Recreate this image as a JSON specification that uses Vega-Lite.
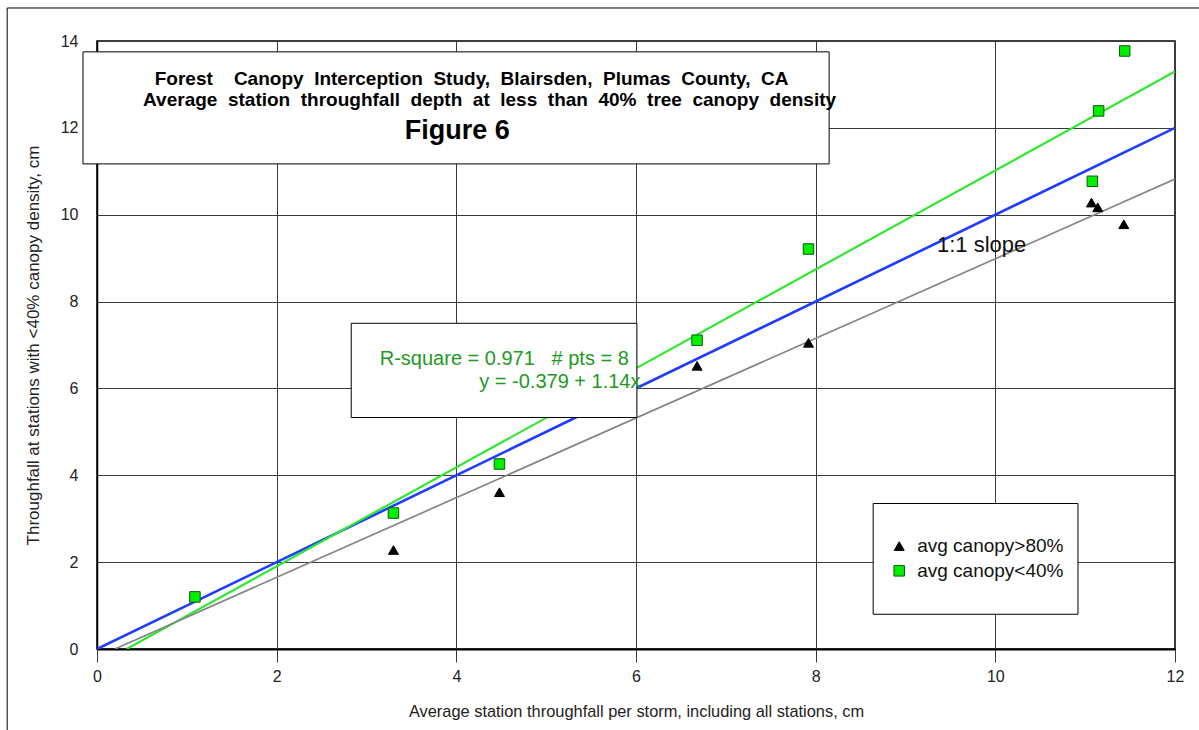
{
  "$schema": "https://vega.github.io/schema/vega-lite/v6.json",
  "width": 1078,
  "height": 608,
  "autosize": {"type": "none"},
  "padding": {"left": 97, "top": 41, "right": 24, "bottom": 81},
  "background": "white",
  "config": {
    "font": "Liberation Sans",
    "view": {"stroke": "black", "strokeWidth": 1.5},
    "axis": {
      "gridColor": "#3a3a3a",
      "gridOpacity": 1,
      "gridWidth": 1,
      "labelColor": "#222",
      "titleColor": "#222",
      "labelFont": "Liberation Sans",
      "titleFont": "Liberation Sans",
      "labelFontSize": 16,
      "labelFlush": false,
      "titleFontWeight": "normal"
    }
  },
  "datasets": {
    "stations": [
      {"series": "avg canopy<40%", "x": 1.09, "y": 1.2},
      {"series": "avg canopy<40%", "x": 3.3, "y": 3.13},
      {"series": "avg canopy<40%", "x": 4.48, "y": 4.26},
      {"series": "avg canopy<40%", "x": 6.68, "y": 7.11},
      {"series": "avg canopy<40%", "x": 7.92, "y": 9.21},
      {"series": "avg canopy<40%", "x": 11.08, "y": 10.77},
      {"series": "avg canopy<40%", "x": 11.15, "y": 12.39},
      {"series": "avg canopy<40%", "x": 11.44, "y": 13.77},
      {"series": "avg canopy>80%", "x": 3.3, "y": 2.28},
      {"series": "avg canopy>80%", "x": 4.48, "y": 3.61},
      {"series": "avg canopy>80%", "x": 6.68, "y": 6.52},
      {"series": "avg canopy>80%", "x": 7.92, "y": 7.05},
      {"series": "avg canopy>80%", "x": 11.07, "y": 10.28},
      {"series": "avg canopy>80%", "x": 11.14, "y": 10.17},
      {"series": "avg canopy>80%", "x": 11.43, "y": 9.78}
    ],
    "fits": [
      {"fit": "one-to-one", "x": 0, "y": 0},
      {"fit": "one-to-one", "x": 12, "y": 12},
      {"fit": "canopy<40%", "x": 0.33, "y": 0},
      {"fit": "canopy<40%", "x": 12, "y": 13.3},
      {"fit": "canopy>80%", "x": 0.2, "y": 0},
      {"fit": "canopy>80%", "x": 12, "y": 10.82}
    ],
    "boxes": [
      {"box": "frame", "x": -1.0, "x2": 13.5, "y": 14.76, "y2": -2.5},
      {"box": "title", "x": -0.156, "x2": 8.15, "y": 13.75, "y2": 11.17},
      {"box": "fit", "x": 2.83, "x2": 6.01, "y": 7.5, "y2": 5.33},
      {"box": "legend", "x": 8.64, "x2": 10.92, "y": 3.35, "y2": 0.8}
    ],
    "titles": [
      {"x": 4.17, "y": 13.12, "size": 19, "text": "Forest \u00a0 \u00a0Canopy \u00a0Interception \u00a0Study, \u00a0Blairsden, \u00a0Plumas \u00a0County, \u00a0CA"},
      {"x": 4.37, "y": 12.63, "size": 19, "text": "Average \u00a0station \u00a0throughfall \u00a0depth \u00a0at \u00a0less \u00a0than \u00a040% \u00a0tree \u00a0canopy \u00a0density"},
      {"x": 4.01, "y": 11.93, "size": 27, "text": "Figure 6"}
    ],
    "fitText": [
      {"x": 5.92, "y": 6.68, "text": "R-square = 0.971 \u00a0 # pts = 8"},
      {"x": 6.05, "y": 6.15, "text": "y = -0.379 + 1.14x"}
    ],
    "legendRows": [
      {"series": "avg canopy>80%", "x": 8.93, "tx": 9.13, "y": 2.37},
      {"series": "avg canopy<40%", "x": 8.93, "tx": 9.13, "y": 1.8}
    ]
  },
  "layer": [
    {
      "data": {"name": "boxes"},
      "transform": [{"filter": "datum.box === 'frame'"}],
      "mark": {"type": "rect", "fill": null, "stroke": "black", "strokeWidth": 1, "clip": false},
      "encoding": {
        "x": {"field": "x", "type": "quantitative", "scale": {"domain": [0, 12]}},
        "x2": {"field": "x2"},
        "y": {"field": "y", "type": "quantitative", "scale": {"domain": [0, 14]}},
        "y2": {"field": "y2"}
      }
    },
    {
      "data": {"name": "fits"},
      "mark": {"type": "line", "clip": true},
      "encoding": {
        "x": {
          "field": "x", "type": "quantitative",
          "scale": {"domain": [0, 12], "nice": false, "zero": true},
          "axis": {
            "values": [0, 2, 4, 6, 8, 10, 12],
            "format": "d",
            "title": "Average station throughfall per storm, including all stations, cm",
            "titleFontSize": 16.4,
            "domainColor": "black", "domainWidth": 2,
            "tickColor": "#3a3a3a", "tickSize": 13,
            "labelPadding": 6, "titlePadding": 19
          }
        },
        "y": {
          "field": "y", "type": "quantitative",
          "scale": {"domain": [0, 14], "nice": false},
          "axis": {
            "values": [0, 2, 4, 6, 8, 10, 12, 14],
            "format": "d",
            "title": "Throughfall at stations with <40% canopy density, cm",
            "titleFontSize": 17,
            "domainColor": "black", "domainWidth": 1.5,
            "ticks": false, "labelPadding": 19, "titlePadding": 18
          }
        },
        "detail": {"field": "fit"},
        "color": {
          "field": "fit", "type": "nominal", "legend": null,
          "scale": {"domain": ["one-to-one", "canopy<40%", "canopy>80%"], "range": ["#1f3cff", "#2ee82e", "#858585"]}
        },
        "strokeWidth": {
          "field": "fit", "type": "nominal", "legend": null,
          "scale": {"domain": ["one-to-one", "canopy<40%", "canopy>80%"], "range": [2.6, 1.7, 0.9]}
        }
      }
    },
    {
      "data": {"name": "stations"},
      "mark": {"type": "point", "filled": true, "opacity": 1, "strokeWidth": 1},
      "encoding": {
        "x": {"field": "x", "type": "quantitative"},
        "y": {"field": "y", "type": "quantitative"},
        "shape": {
          "field": "series", "type": "nominal", "legend": null,
          "scale": {"domain": ["avg canopy>80%", "avg canopy<40%"], "range": ["triangle-up", "square"]}
        },
        "fill": {
          "field": "series", "type": "nominal", "legend": null,
          "scale": {"domain": ["avg canopy>80%", "avg canopy<40%"], "range": ["#000000", "#00f000"]}
        },
        "stroke": {
          "field": "series", "type": "nominal", "legend": null,
          "scale": {"domain": ["avg canopy>80%", "avg canopy<40%"], "range": ["#000000", "#0a5a0a"]}
        },
        "size": {
          "field": "series", "type": "nominal", "legend": null,
          "scale": {"domain": ["avg canopy>80%", "avg canopy<40%"], "range": [100, 110]}
        }
      }
    },
    {
      "data": {"name": "boxes"},
      "transform": [{"filter": "datum.box !== 'frame'"}],
      "mark": {"type": "rect", "fill": "white", "stroke": "black", "strokeWidth": 1, "clip": false},
      "encoding": {
        "x": {"field": "x", "type": "quantitative"},
        "x2": {"field": "x2"},
        "y": {"field": "y", "type": "quantitative"},
        "y2": {"field": "y2"}
      }
    },
    {
      "data": {"name": "titles"},
      "mark": {"type": "text", "fontWeight": "bold", "color": "black", "align": "center", "baseline": "middle", "clip": false},
      "encoding": {
        "x": {"field": "x", "type": "quantitative"},
        "y": {"field": "y", "type": "quantitative"},
        "text": {"field": "text"},
        "size": {"field": "size", "type": "quantitative", "scale": null, "legend": null}
      }
    },
    {
      "data": {"name": "fitText"},
      "mark": {"type": "text", "fontSize": 20, "color": "#1e9a1e", "align": "right", "baseline": "middle"},
      "encoding": {
        "x": {"field": "x", "type": "quantitative"},
        "y": {"field": "y", "type": "quantitative"},
        "text": {"field": "text"}
      }
    },
    {
      "data": {"values": [{"x": 9.35, "y": 9.3, "text": "1:1 slope"}]},
      "mark": {"type": "text", "fontSize": 22, "color": "#111", "align": "left", "baseline": "middle"},
      "encoding": {
        "x": {"field": "x", "type": "quantitative"},
        "y": {"field": "y", "type": "quantitative"},
        "text": {"field": "text"}
      }
    },
    {
      "data": {"name": "legendRows"},
      "mark": {"type": "point", "filled": true, "opacity": 1, "strokeWidth": 1},
      "encoding": {
        "x": {"field": "x", "type": "quantitative"},
        "y": {"field": "y", "type": "quantitative"},
        "shape": {"field": "series", "type": "nominal", "legend": null},
        "fill": {"field": "series", "type": "nominal", "legend": null},
        "stroke": {"field": "series", "type": "nominal", "legend": null},
        "size": {"field": "series", "type": "nominal", "legend": null}
      }
    },
    {
      "data": {"name": "legendRows"},
      "mark": {"type": "text", "fontSize": 19, "color": "#111", "align": "left", "baseline": "middle"},
      "encoding": {
        "x": {"field": "tx", "type": "quantitative"},
        "y": {"field": "y", "type": "quantitative"},
        "text": {"field": "series"}
      }
    }
  ]
}
